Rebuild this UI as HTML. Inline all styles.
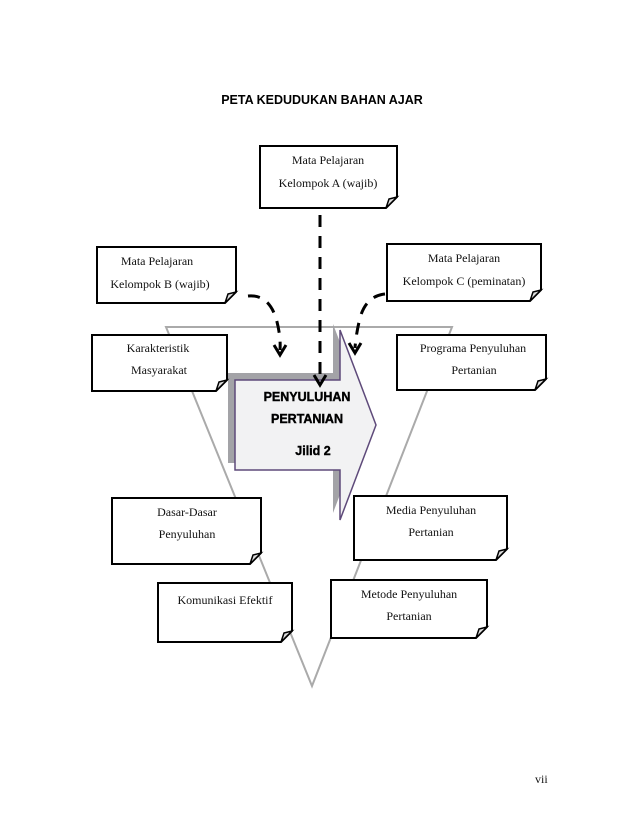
<!DOCTYPE html>
<html><head><style>
body{margin:0;background:#fff;width:638px;height:826px;overflow:hidden;font-family:"Liberation Serif",serif;}
svg{position:absolute;left:0;top:0}
.t{font-family:"Liberation Serif",serif;font-size:12px;fill:#111}
</style></head><body>
<svg width="638" height="826" viewBox="0 0 638 826">
<text x="322" y="104" text-anchor="middle" style="font-family:'Liberation Sans',sans-serif;font-weight:bold;font-size:12.5px">PETA KEDUDUKAN BAHAN AJAR</text>
<!-- triangle -->
<polygon points="166,327 452,327 312,686" fill="none" stroke="#aaa" stroke-width="2"/>
<!-- arrow shadow -->
<polygon points="228,373 333,373 333,324 369,418 333,513 333,463 228,463" fill="#a3a3a7"/>
<!-- arrow -->
<polygon points="235,380 340,380 340,330 376,425 340,520 340,470 235,470" fill="#f2f2f3" stroke="#5e4a7a" stroke-width="1.5"/>
<g style="font-family:'Liberation Sans',sans-serif;font-weight:bold;font-size:12.5px;fill:#000;stroke:#000;stroke-width:0.4" text-anchor="middle">
<text x="307" y="401">PENYULUHAN</text>
<text x="307" y="423">PERTANIAN</text>
<text x="313" y="455">Jilid 2</text>
</g>
<!-- dashed connectors -->
<g fill="none" stroke="#000" stroke-width="3" stroke-dasharray="12,9">
<line x1="320" y1="215" x2="320" y2="383"/>
<path d="M248,296 Q268,294 276,318 Q281,336 280,350"/>
<path d="M385,294 Q366,296 360,318 Q356,334 355,348"/>
</g>
<g fill="none" stroke="#000" stroke-width="3">
<polyline points="314,375 320,385 326,375"/>
<polyline points="274,345 280,355 286,345"/>
<polyline points="349,343 355,353 361,343"/>
</g>
<!-- boxes -->
<g fill="#fff" stroke="#000" stroke-width="2">
<path d="M260,146 H397 V197 L386,208 H260 Z"/>
<path d="M97,247 H236 V292 L225,303 H97 Z"/>
<path d="M387,244 H541 V290 L530,301 H387 Z"/>
<path d="M92,335 H227 V380 L216,391 H92 Z"/>
<path d="M397,335 H546 V379 L535,390 H397 Z"/>
<path d="M112,498 H261 V553 L250,564 H112 Z"/>
<path d="M354,496 H507 V549 L496,560 H354 Z"/>
<path d="M158,583 H292 V631 L281,642 H158 Z"/>
<path d="M331,580 H487 V627 L476,638 H331 Z"/>
</g>
<g fill="#ddd" stroke="#000" stroke-width="1.5">
<path d="M397,197 L386,208 L389,199 Z"/>
<path d="M236,292 L225,303 L228,294 Z"/>
<path d="M541,290 L530,301 L533,292 Z"/>
<path d="M227,380 L216,391 L219,382 Z"/>
<path d="M546,379 L535,390 L538,381 Z"/>
<path d="M261,553 L250,564 L253,555 Z"/>
<path d="M507,549 L496,560 L499,551 Z"/>
<path d="M292,631 L281,642 L284,633 Z"/>
<path d="M487,627 L476,638 L479,629 Z"/>
</g>
<g class="t" text-anchor="middle">
<text class="t" x="328" y="164">Mata Pelajaran</text>
<text class="t" x="328" y="187">Kelompok A (wajib)</text>
<text class="t" x="157" y="265">Mata Pelajaran</text>
<text class="t" x="160" y="288">Kelompok B (wajib)</text>
<text class="t" x="464" y="262">Mata Pelajaran</text>
<text class="t" x="464" y="285">Kelompok C (peminatan)</text>
<text class="t" x="158" y="352">Karakteristik</text>
<text class="t" x="159" y="374">Masyarakat</text>
<text class="t" x="473" y="352">Programa Penyuluhan</text>
<text class="t" x="474" y="374">Pertanian</text>
<text class="t" x="187" y="516">Dasar-Dasar</text>
<text class="t" x="187" y="538">Penyuluhan</text>
<text class="t" x="431" y="514">Media Penyuluhan</text>
<text class="t" x="431" y="536">Pertanian</text>
<text class="t" x="225" y="604">Komunikasi Efektif</text>
<text class="t" x="409" y="598">Metode Penyuluhan</text>
<text class="t" x="409" y="620">Pertanian</text>
</g>
<text class="t" x="535" y="783">vii</text>
</svg>
</body></html>
